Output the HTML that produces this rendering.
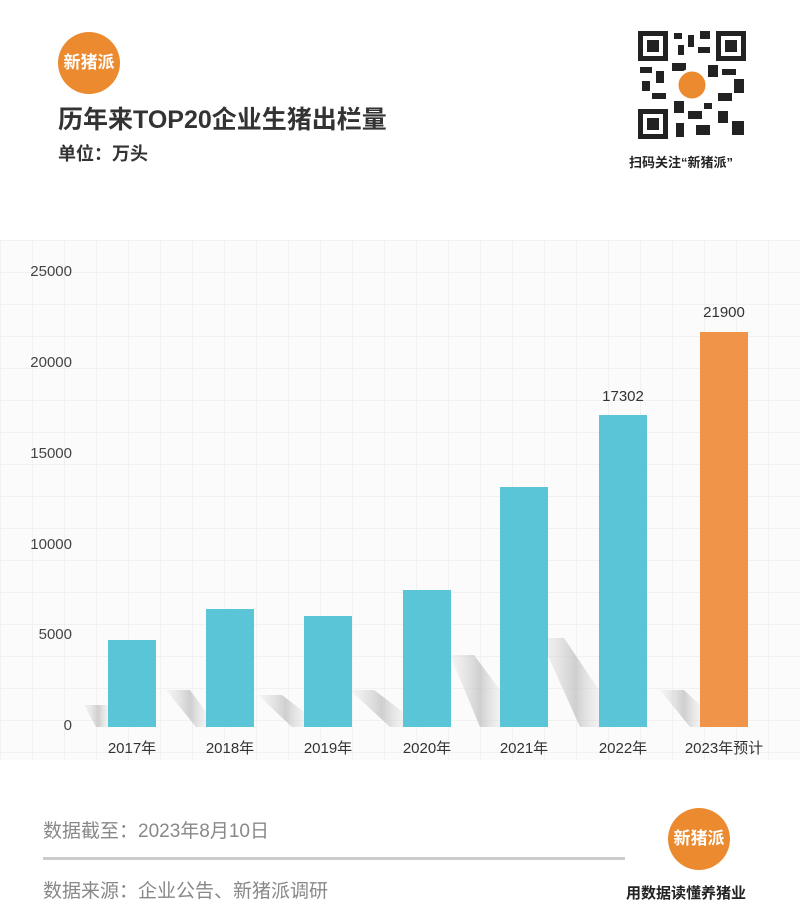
<!DOCTYPE html>
<html><head><meta charset="utf-8"><style>
body{margin:0;width:800px;height:914px;background:#fff;position:relative;overflow:hidden;font-family:"Liberation Sans","Noto Sans CJK SC",sans-serif}
.a{position:absolute}
.grid{left:0;top:240px;width:800px;height:520px;background-color:#fbfbfb;background-image:linear-gradient(#f1f1f1 1px,transparent 1px),linear-gradient(90deg,#f1f1f1 1px,transparent 1px);background-size:32px 32px}
.yl{left:0;width:72px;text-align:right;font-size:15px;color:#444}
.xl{top:737px;font-size:15px;color:#333;width:100px;text-align:center}
.bar{background:#5bc5d8;width:48px}
</style></head><body>
<div class="a grid"></div>
<div class="a" style="left:58px;top:32px;width:62px;height:62px;border-radius:50%;background:#ec8a2f;color:#fff;font-size:17px;line-height:62px;text-align:center;font-weight:bold">新猪派</div>
<div class="a" style="left:58px;top:100px;font-size:25px;font-weight:bold;color:#333">历年来TOP20企业生猪出栏量</div>
<div class="a" style="left:58px;top:140px;font-size:18px;color:#333;font-weight:bold">单位：万头</div>
<svg class="a" style="left:638px;top:31px" width="108" height="108">
<rect width="108" height="108" fill="#fff"/>
<g fill="#222">
<rect x="0" y="0" width="30" height="30"/><rect x="78" y="0" width="30" height="30"/><rect x="0" y="78" width="30" height="30"/>
</g>
<g fill="#fff"><rect x="5" y="5" width="20" height="20"/><rect x="83" y="5" width="20" height="20"/><rect x="5" y="83" width="20" height="20"/></g>
<g fill="#222"><rect x="9" y="9" width="12" height="12"/><rect x="87" y="9" width="12" height="12"/><rect x="9" y="87" width="12" height="12"/>
<rect x="36" y="2" width="8" height="6"/><rect x="50" y="4" width="6" height="12"/><rect x="62" y="0" width="10" height="8"/><rect x="40" y="14" width="6" height="10"/><rect x="60" y="16" width="12" height="6"/>
<rect x="2" y="36" width="12" height="6"/><rect x="18" y="40" width="8" height="12"/><rect x="4" y="50" width="8" height="10"/><rect x="14" y="62" width="14" height="6"/>
<rect x="34" y="32" width="14" height="8"/><rect x="70" y="34" width="10" height="12"/><rect x="84" y="38" width="14" height="6"/><rect x="96" y="48" width="10" height="14"/>
<rect x="80" y="62" width="14" height="8"/><rect x="36" y="70" width="10" height="12"/><rect x="50" y="80" width="14" height="8"/><rect x="38" y="92" width="8" height="14"/>
<rect x="58" y="94" width="14" height="10"/><rect x="80" y="80" width="10" height="12"/><rect x="94" y="90" width="12" height="14"/><rect x="66" y="72" width="8" height="6"/></g>
<circle cx="54" cy="54" r="15" fill="#ec8a2f" stroke="#fff" stroke-width="3"/>
</svg>
<div class="a" style="left:629px;top:152px;font-size:13px;font-weight:bold;color:#222">扫码关注“新猪派”</div>

<div class="a yl" style="top:263px">25000</div>
<div class="a yl" style="top:354px">20000</div>
<div class="a yl" style="top:445px">15000</div>
<div class="a yl" style="top:536px">10000</div>
<div class="a yl" style="top:626px">5000</div>
<div class="a yl" style="top:717px">0</div>

<svg class="a" style="left:0;top:0" width="800" height="914">
<defs><linearGradient id="s" x1="0" y1="0" x2="1" y2="0"><stop offset="0" stop-color="#ddd" stop-opacity=".2"/><stop offset=".6" stop-color="#c4c4c4" stop-opacity=".8"/><stop offset="1" stop-color="#ddd" stop-opacity=".3"/></linearGradient></defs>
<polygon points="84,705 108,705 108,727 96,727" fill="url(#s)"/>
<polygon points="166,690 190,690 206,712 206,727 196,727" fill="url(#s)"/>
<polygon points="258,695 282,695 304,712 304,727 292,727" fill="url(#s)"/>
<polygon points="350,690 374,690 403,712 403,727 390,727" fill="url(#s)"/>
<polygon points="450,655 474,655 500,690 500,727 480,727" fill="url(#s)"/>
<polygon points="540,638 564,638 599,690 599,727 580,727" fill="url(#s)"/>
<polygon points="660,690 684,690 700,705 700,727 690,727" fill="url(#s)"/>
</svg>

<div class="a bar" style="left:108px;top:640px;height:87px"></div>
<div class="a bar" style="left:206px;top:609px;height:118px"></div>
<div class="a bar" style="left:304px;top:616px;height:111px"></div>
<div class="a bar" style="left:403px;top:590px;height:137px"></div>
<div class="a bar" style="left:500px;top:487px;height:240px"></div>
<div class="a bar" style="left:599px;top:415px;height:312px"></div>
<div class="a bar" style="left:700px;top:332px;height:395px;background:#f0944a"></div>
<div class="a" style="left:599px;top:388px;width:48px;text-align:center;font-size:15px;color:#333">17302</div>
<div class="a" style="left:700px;top:304px;width:48px;text-align:center;font-size:15px;color:#333">21900</div>

<div class="a xl" style="left:82px">2017年</div>
<div class="a xl" style="left:180px">2018年</div>
<div class="a xl" style="left:278px">2019年</div>
<div class="a xl" style="left:377px">2020年</div>
<div class="a xl" style="left:474px">2021年</div>
<div class="a xl" style="left:573px">2022年</div>
<div class="a xl" style="left:674px">2023年预计</div>

<div class="a" style="left:43px;top:816px;font-size:19px;color:#888">数据截至：2023年8月10日</div>
<div class="a" style="left:43px;top:857px;width:582px;height:3px;background:#ccc"></div>
<div class="a" style="left:43px;top:876px;font-size:19px;color:#888">数据来源：企业公告、新猪派调研</div>
<div class="a" style="left:668px;top:808px;width:62px;height:62px;border-radius:50%;background:#ec8a2f;color:#fff;font-size:17px;line-height:62px;text-align:center;font-weight:bold">新猪派</div>
<div class="a" style="left:626px;top:882px;font-size:15px;color:#222;font-weight:bold">用数据读懂养猪业</div>
</body></html>
